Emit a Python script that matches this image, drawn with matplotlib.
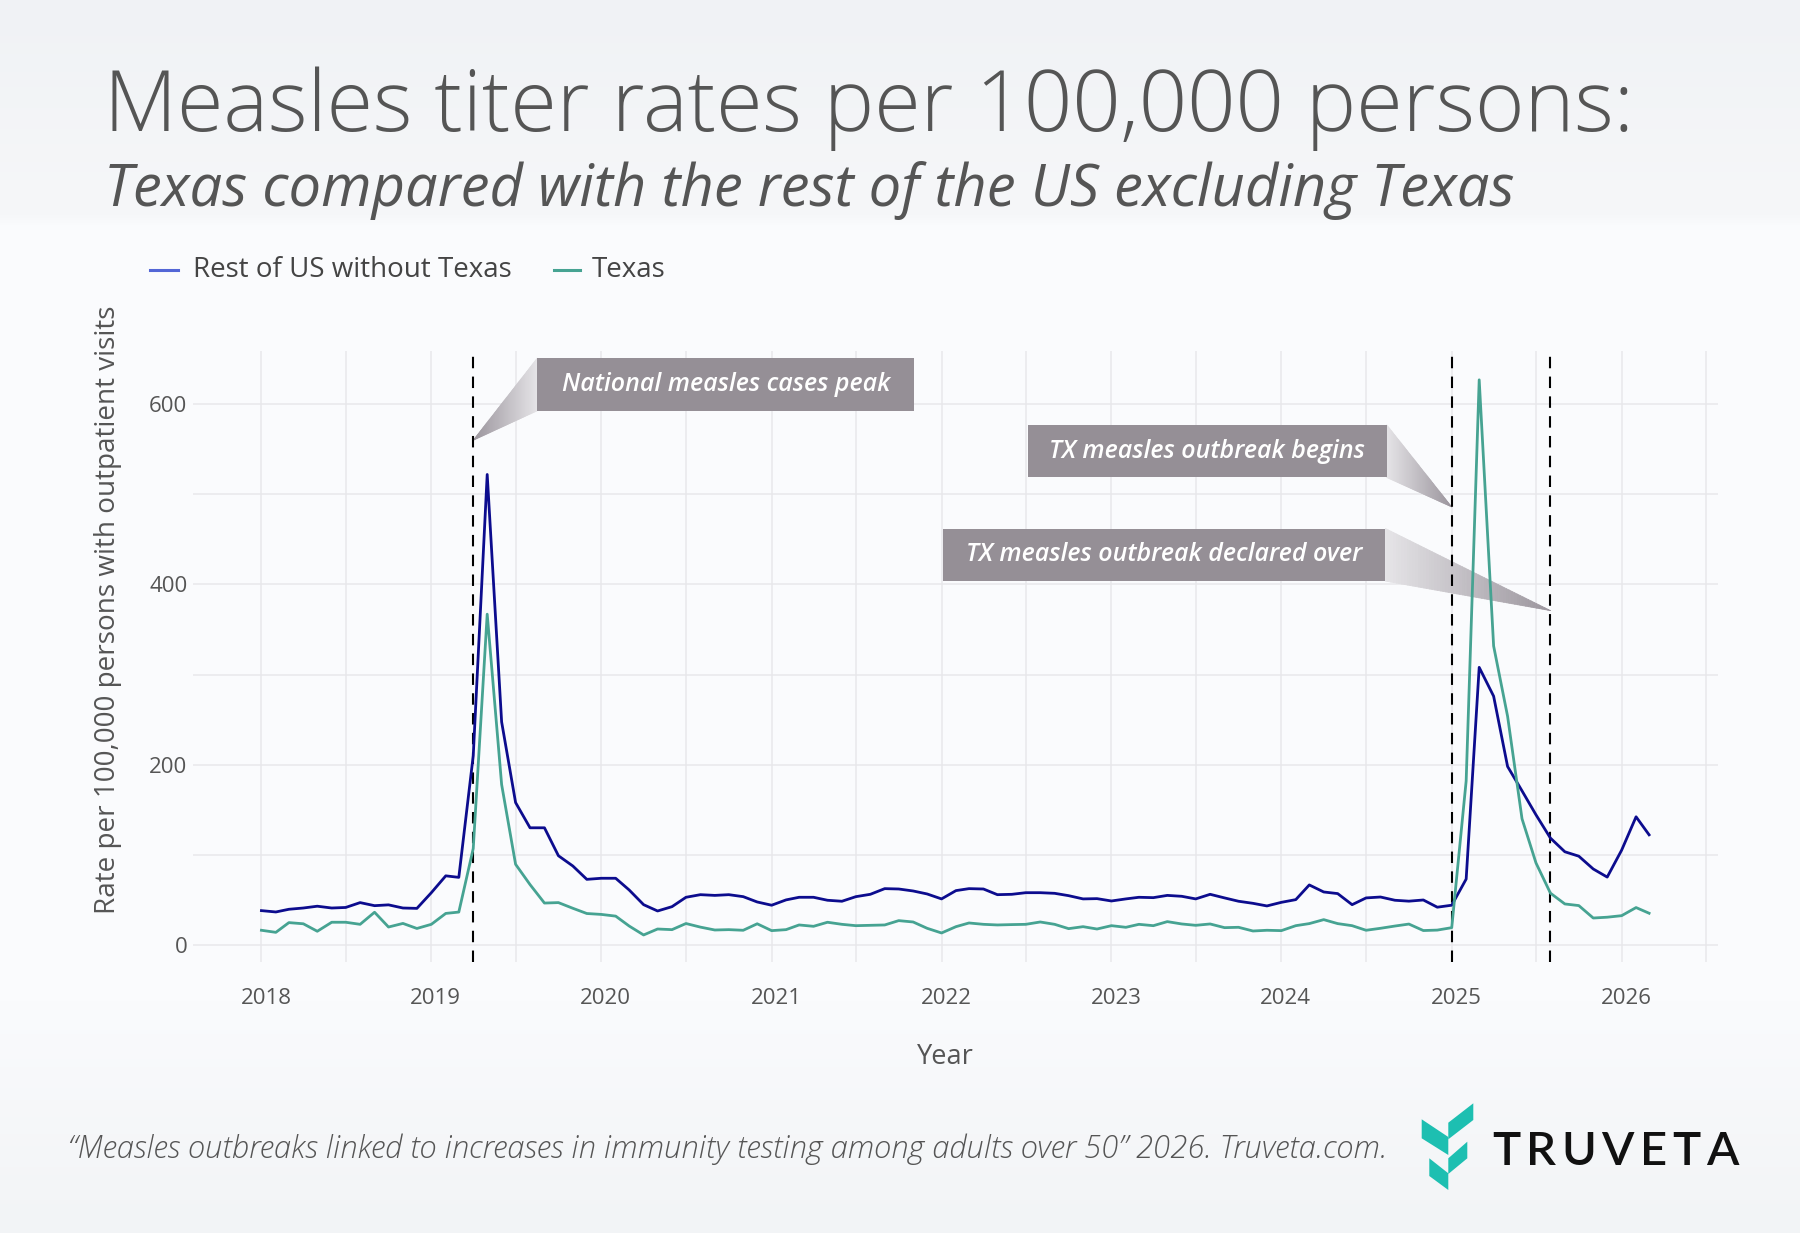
import numpy as np
import pandas as pd
import matplotlib.pyplot as plt
import matplotlib.dates as mdates
import matplotlib.transforms as mtransforms
from matplotlib.patches import Rectangle, Polygon
from matplotlib.collections import PolyCollection
from matplotlib.lines import Line2D
from matplotlib.colors import to_rgb

plt.rcParams['font.family'] = ['Open Sans', 'DejaVu Sans']

months = pd.date_range('2018-01-01', '2026-03-01', freq='MS')

rest_us = [38.1, 36.6, 39.6, 41, 43, 41, 41.6, 47, 43.6, 44.5, 41, 40.6,
           58, 76.7, 75, 210, 522, 247.5, 158, 130, 130, 99, 87.6, 72.8,
           74, 74, 61, 44.7, 37.7, 42.5, 52.9, 55.8, 55, 55.8, 53.6, 47.7,
           44.1, 50, 52.9, 52.9, 49.6, 48.5, 53.6, 56.2, 62.5, 62.1, 59.9, 56.6,
           51.1, 60.3, 62.5, 62.1, 55.8, 56.2, 58, 58, 57.3, 54.7, 51.1, 51.4,
           48.8, 51.1, 52.9, 52.5, 55, 54, 51.1, 56.2, 52.2, 48.5, 46.2, 43.3,
           47.3, 50.3, 66.6, 58.8, 57, 44.7, 52.2, 53.2, 49.6, 48.6, 49.9, 41.9,
           44.1, 73.1, 308, 276, 198, 171, 144.4, 118.6, 103.4, 98.5, 84.3, 75.3,
           105.2, 142.2, 122.2]

texas = [16.3, 14, 24.8, 23.5, 15.2, 25.2, 25.2, 22.9, 36.3, 19.9, 23.9, 18.3,
         22.9, 35, 36.5, 107, 367, 178, 89.5, 67, 46.5, 47, 40.7, 34.9,
         33.9, 32, 21, 11.1, 17.7, 17, 23.8, 19.8, 16.6, 17, 16.3, 23.5,
         15.9, 17, 22.2, 20.7, 25.2, 22.9, 21.4, 21.8, 22.2, 27, 25.5, 18.5,
         13.3, 20.3, 24.4, 22.9, 22.2, 22.6, 22.9, 25.5, 22.9, 18.1, 20.3, 17.7,
         21.4, 19.6, 22.9, 21.4, 25.9, 23.3, 21.8, 23.3, 19.2, 19.6, 15.5, 16.3,
         15.9, 21.4, 23.7, 28.1, 23.7, 21.4, 16.3, 18.5, 21, 23.2, 16, 16.5,
         19.2, 182, 627, 331.7, 253.7, 140, 91, 57.5, 45.5, 43.7, 29.9, 30.8,
         32.5, 41.5, 35.2]

event_dates = pd.to_datetime(['2019-04-01', '2025-01-01', '2025-08-01'])
event_labels = ['National measles cases peak', 'TX measles outbreak begins',
                'TX measles outbreak declared over']
event_tip_y = [560, 486, 371]

W, H = 1800, 1233
def fx(x):
    return x / W
def fy(y):
    return 1 - y / H

fig = plt.figure(figsize=(18, 12.33), dpi=100)

# background gradient
bg = fig.add_axes([0, 0, 1, 1], zorder=-5)
stops_y = [0, 215, 225, 1000, 1233]
stops_c = ['#f0f2f5', '#f6f7f9', '#fafbfd', '#fafbfd', '#f2f4f6']
yy = np.arange(H)
grad = np.zeros((H, 1, 3))
for k in range(3):
    grad[:, 0, k] = np.interp(yy, stops_y, [to_rgb(c)[k] for c in stops_c])
bg.imshow(grad, aspect='auto', extent=[0, 1, 0, 1])
bg.axis('off')

ax = fig.add_axes([193 / W, 1 - 962 / H, (1718 - 193) / W, (962 - 351) / H])
ax.set_facecolor('none')
ax.set_axisbelow(True)

ax.plot(months, rest_us, color='#0c0c8e', lw=2.0, zorder=4)
ax.plot(months, texas, color='#46a392', lw=2.0, zorder=4)

for d in event_dates:
    ax.axvline(d, color='black', lw=1.5, dashes=(5.5, 4), zorder=3)

ax.set_xlim(pd.Timestamp('2017-08-07'), pd.Timestamp('2026-07-27'))
ax.set_ylim(-18.9, 659)

ax.xaxis.set_major_locator(mdates.YearLocator())
ax.xaxis.set_major_formatter(mdates.DateFormatter('%Y'))
ax.xaxis.set_minor_locator(mdates.MonthLocator(bymonth=7))
ax.set_yticks([0, 200, 400, 600])
ax.set_yticks([100, 300, 500], minor=True)
ax.grid(True, which='both', color='#e8e8eb', lw=1.1)
ax.tick_params(which='both', length=0, labelsize=16, labelcolor='#555555')
ax.tick_params(axis='x', pad=19)
ax.tick_params(axis='y', pad=4)
for s in ax.spines.values():
    s.set_visible(False)
shift = mtransforms.ScaledTranslation(0.045, 0, fig.dpi_scale_trans)
for lab in ax.get_xticklabels():
    lab.set_transform(lab.get_transform() + shift)

# callouts
def callout(date, yval, text, box_right, offset, width):
    tx, ty = ax.transData.transform((mdates.date2num(date), yval))
    ty = H - ty  # to top-down pixels
    if box_right:
        x0 = tx + offset
        x1 = x0 + width
        edge = x0
    else:
        x1 = tx - offset
        x0 = x1 - width
        edge = x1
    top = ty - 82
    bot = ty - 29.5
    # gradient triangle
    light = np.array(to_rgb('#e6e5e8'))
    dark = np.array(to_rgb('#9b959d'))
    n = 60
    polys, cols = [], []
    for i in range(n):
        t0, t1 = i / n, (i + 1) / n
        xa = edge + t0 * (tx - edge)
        xb = edge + t1 * (tx - edge)
        pa_top = top + t0 * (ty - top)
        pb_top = top + t1 * (ty - top)
        pa_bot = bot + t0 * (ty - bot)
        pb_bot = bot + t1 * (ty - bot)
        polys.append([(fx(xa), fy(pa_top)), (fx(xb), fy(pb_top)),
                      (fx(xb), fy(pb_bot)), (fx(xa), fy(pa_bot))])
        c = light + (dark - light) * (t0 + t1) / 2
        cols.append(c)
    pc = PolyCollection(polys, facecolors=cols, edgecolors=cols, linewidths=0.6,
                        transform=fig.transFigure, zorder=2, clip_on=False)
    ax.add_collection(pc, autolim=False)
    ax.add_patch(Rectangle((fx(x0), fy(bot)), (x1 - x0) / W, (bot - top) / H,
                           transform=fig.transFigure, facecolor='#958f96',
                           edgecolor='none', zorder=2, clip_on=False))
    ax.text(fx((x0 + x1) / 2), fy((top + bot) / 2), text, transform=fig.transFigure,
            ha='center', va='center', color='white', fontsize=18,
            style='italic', weight='semibold', zorder=5)

callout(event_dates[0], event_tip_y[0], event_labels[0], True, 64, 377)
callout(event_dates[1], event_tip_y[1], event_labels[1], False, 65, 359)
callout(event_dates[2], event_tip_y[2], event_labels[2], False, 165, 442)

# titles
fig.text(fx(104), fy(131), 'Measles titer rates per 100,000 persons:', fontsize=60.9,
         weight='light', color='#555555', va='baseline')
fig.text(fx(104), fy(206), 'Texas compared with the rest of the US excluding Texas',
         fontsize=41.7, style='italic', color='#555555', va='baseline')

# legend
fig.add_artist(Line2D([fx(150), fx(178)], [fy(270)] * 2, color='#5366d6', lw=2.2))
fig.text(fx(193), fy(270), 'Rest of US without Texas', fontsize=20, color='#444444', va='center')
fig.add_artist(Line2D([fx(554), fx(580)], [fy(270)] * 2, color='#46a392', lw=2.2))
fig.text(fx(592), fy(270), 'Texas', fontsize=20, color='#444444', va='center')

# axis titles
fig.text(fx(108), fy(610), 'Rate per 100,000 persons with outpatient visits', rotation=90,
         fontsize=20.1, color='#555555', ha='center', va='center')
fig.text(fx(945), fy(1057), 'Year', fontsize=19.5, color='#555555', ha='center', va='center')

# footer
fig.text(fx(68), fy(1158), '\u201cMeasles outbreaks linked to increases in immunity testing among adults over 50\u201d 2026. Truveta.com.',
         fontsize=22.3, style='italic', weight='light', color='#555555', va='baseline')

# logo
teal = '#1dbfb1'
logo_shapes = [
    [(1421.7, 1119.3), (1448.3, 1137), (1448.3, 1155), (1421.7, 1138.3)],
    [(1448.3, 1122.7), (1473.3, 1103.3), (1473.3, 1120), (1448.3, 1139.3)],
    [(1448.3, 1158.3), (1467.3, 1141.7), (1467.3, 1158.3), (1448.3, 1174)],
    [(1429.3, 1158.3), (1448.3, 1173.3), (1448.3, 1190), (1429.3, 1176)],
]
for shp in logo_shapes:
    fig.add_artist(Polygon([(fx(a), fy(b)) for a, b in shp], closed=True,
                           facecolor=teal, edgecolor='none'))

renderer = fig.canvas.get_renderer()
xpos = 1492
for ch in 'TRUVETA':
    t = fig.text(fx(xpos), fy(1165), ch, fontsize=34, weight='semibold', color='#111111',
                 family=['Lato', 'DejaVu Sans'], va='baseline')
    xpos += t.get_window_extent(renderer).width + 5.5

fig.savefig('out.png', dpi=100)
